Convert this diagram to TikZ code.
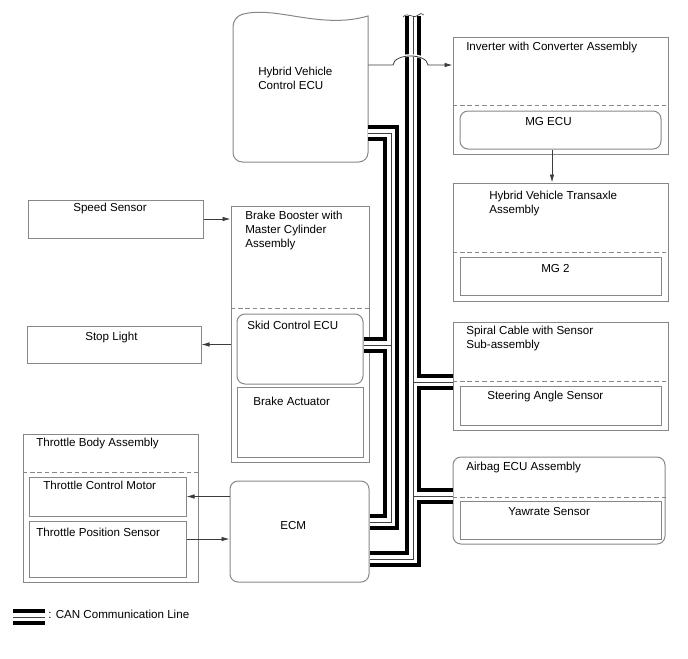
\documentclass[tikz,border=0pt]{standalone}
\usepackage{fontspec}
\setmainfont{Liberation Sans}
\definecolor{boxgray}{RGB}{135, 135, 135}
\definecolor{wiregray}{RGB}{60, 60, 60}
\usetikzlibrary{arrows.meta, fit}

\begin{document}
\begin{tikzpicture}[x=0.75pt, y=-0.75pt,
    every node/.style={font=\fontsize{8.7}{10.5}\selectfont, inner sep=0pt},
    box/.style={draw=boxgray, line width=0.75pt},
    rbox/.style={box, rounded corners=6pt},
    sep/.style={draw=boxgray, line width=0.7pt, dash pattern=on 3.4pt off 2.2pt},
    txt/.style={anchor=north west, align=left},
    arr/.style={draw=wiregray, line width=0.6pt, -{Latex[length=6pt,width=3.4pt]}},
    canouter/.style={draw=black, line width=11.5pt},
    caninner/.style={draw=white, line width=6pt},
    canmid/.style={draw=black!75, line width=0.7pt}]
  \useasboundingbox (0,0) rectangle (688,658);
  % control units and parts
  \draw[box] (368,16) [rounded corners=7pt] -- (368,162) -- (233,162) -- (233,17) [sharp corners] .. controls (275,5) and (320,30) .. (368,16) -- cycle;
  \node[fit={(233,13) (368,162)}] (hv) {};
  \node[box, fit={(453,37) (668,154)}] (inv) {};
  \node[rbox, fit={(460,111) (661,149)}] (mgecu) {};
  \node[box, fit={(453,183) (668,301)}] (hvt) {};
  \node[box, fit={(460,257) (661,295)}] (mg2) {};
  \node[box, fit={(28,200) (203,238)}] (spd) {};
  \node[box, fit={(231,206) (369,462)}] (bbm) {};
  \node[rbox, fit={(237,314) (363,384)}] (skid) {};
  \node[box, fit={(237,387) (363,457)}] (bact) {};
  \node[box, fit={(27,326) (201,363)}] (stop) {};
  \node[box, fit={(23,434) (198,582)}] (thb) {};
  \node[box, fit={(29,477) (186,516)}] (tcm) {};
  \node[box, fit={(29,521) (186,577)}] (tps) {};
  \node[rbox, fit={(230,481) (369,582)}] (ecm) {};
  \node[box, fit={(453,322) (668,430)}] (spc) {};
  \node[box, fit={(460,386) (661,425)}] (sas) {};
  \node[rbox, fit={(453,457) (665,544)}] (abg) {};
  \node[box, fit={(460,501) (661,539)}] (yaw) {};
  \draw[sep] (inv.west |- 0,105) -- (inv.east |- 0,105);
  \draw[sep] (hvt.west |- 0,252) -- (hvt.east |- 0,252);
  \draw[sep] (bbm.west |- 0,308) -- (bbm.east |- 0,308);
  \draw[sep] (thb.west |- 0,472) -- (thb.east |- 0,472);
  \draw[sep] (spc.west |- 0,381) -- (spc.east |- 0,381);
  \draw[sep] (abg.west |- 0,497) -- (abg.east |- 0,497);
  % labels
  \node[txt] (hvtxt) at (258,67) {Hybrid Vehicle\\Control ECU};
  \node[txt] (invtxt) at (466,42) {Inverter with Converter Assembly};
  \node[txt] (mgetxt) at (525,117) {MG ECU};
  \node[txt] (hvttxt) at (489,191) {Hybrid Vehicle Transaxle\\Assembly};
  \node[txt] (mg2txt) at (541,264) {MG 2};
  \node[txt] (spdtxt) at (73,203) {Speed Sensor};
  \node[txt] (bbmtxt) at (245,211) {Brake Booster with\\Master Cylinder\\Assembly};
  \node[txt] (skidtxt) at (247,321) {Skid Control ECU};
  \node[txt] (bacttxt) at (253,397) {Brake Actuator};
  \node[txt] (stoptxt) at (85,332) {Stop Light};
  \node[txt] (thbtxt) at (36,438) {Throttle Body Assembly};
  \node[txt] (tcmtxt) at (43,481) {Throttle Control Motor};
  \node[txt] (tpstxt) at (36,528) {Throttle Position Sensor};
  \node[txt] (ecmtxt) at (280,521) {ECM};
  \node[txt] (spctxt) at (466,326) {Spiral Cable with Sensor\\Sub-assembly};
  \node[txt] (sastxt) at (487,391) {Steering Angle Sensor};
  \node[txt] (abgtxt) at (466,462) {Airbag ECU Assembly};
  \node[txt] (yawtxt) at (508,507) {Yawrate Sensor};
  \node[txt] (lgdtxt) at (48,610) {: CAN Communication Line};
  % CAN bus
  \coordinate (trunk) at (413,16);
  \coordinate (hvbus) at (391,133);
  \foreach \st in {canouter,caninner,canmid} {
    \draw[\st] (hv.east |- hvbus) -| (391,522) -- (ecm.east |- 0,522);
    \draw[\st] (skid.east |- 0,345) -- (391,345);
    \draw[\st] (trunk) -- (413,559) -- (ecm.east |- 0,559);
    \draw[\st] (413,382) -- (spc.west |- 0,382);
    \draw[\st] (413,496) -- (abg.west |- 0,496);
    \draw[\st] (13,617) -- (45,617);
  }
  \draw[wiregray, line width=0.5pt] (403,17) .. controls (408,11) and (413,20) .. (418,15) .. controls (420,13) and (422,13) .. (424,15);
  % signal lines
  \draw[white, line width=2pt] (394,63) .. controls (395,53) and (426,53) .. (427,63);
  \draw[arr] (hv.east |- 0,65) -- (393,65) .. controls (394,53) and (427,53) .. (428,65) -- (inv.west |- 0,65);
  \coordinate (mgdown) at (552,0);
  \draw[arr] (mgecu.south -| mgdown) -- (hvt.north -| mgdown);
  \draw[arr] (spd.east) -- (bbm.west |- spd.east);
  \draw[arr] (bbm.west |- stop.east) -- (stop.east);
  \draw[arr] (ecm.west |- tcm.east) -- (tcm.east);
  \draw[arr] (tps.east |- 0,539) -- (ecm.west |- 0,539);
\end{tikzpicture}
\end{document}
